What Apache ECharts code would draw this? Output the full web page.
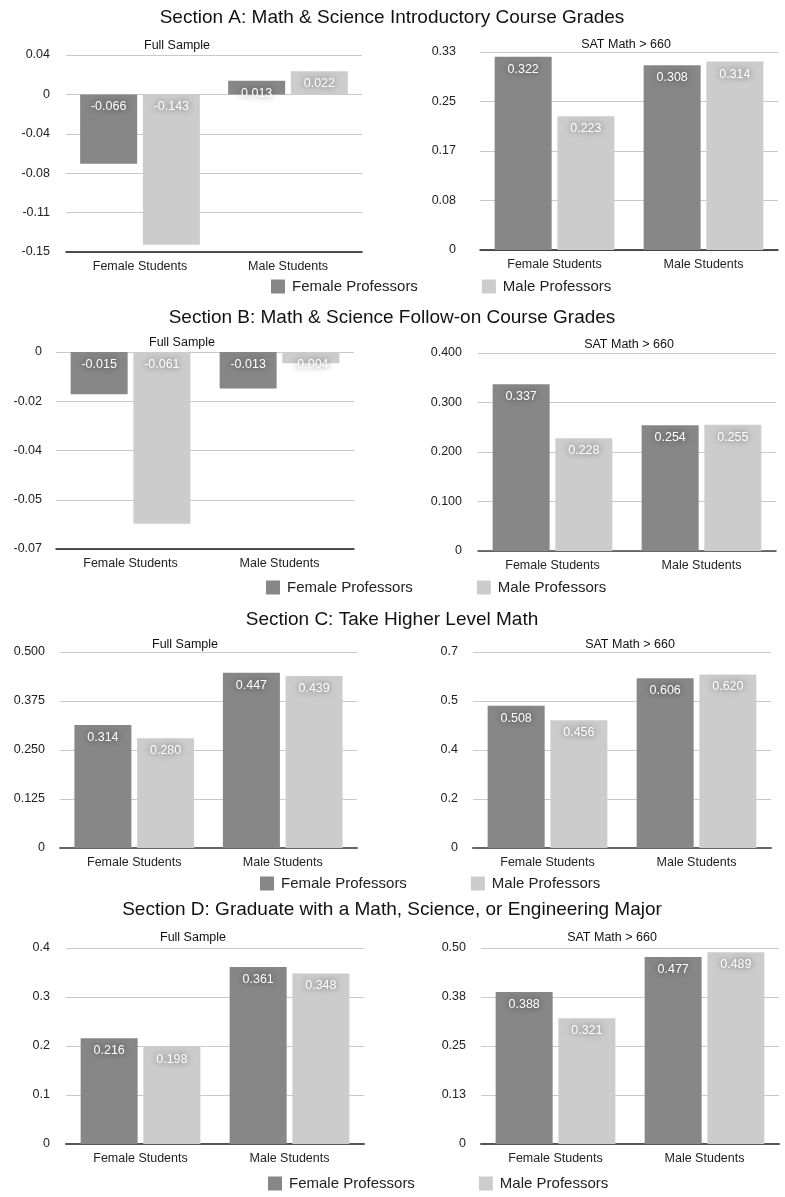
<!DOCTYPE html>
<html>
<head>
<meta charset="utf-8">
<script src="https://cdn.jsdelivr.net/npm/echarts@6/dist/echarts.min.js"></script>
<style>
  html, body { margin: 0; padding: 0; background: #ffffff; }
  #chart { width: 785px; height: 1197px; }
</style>
</head>
<body>
<div id="chart"></div>
<script>
// ---- data ----
const categories = ['Female Students', 'Male Students'];
const seriesNames = ['Female Professors', 'Male Professors'];
const sectionTitles = [
  'Section A: Math & Science Introductory Course Grades',
  'Section B: Math & Science Follow-on Course Grades',
  'Section C: Take Higher Level Math',
  'Section D: Graduate with a Math, Science, or Engineering Major'
];
const panelTitles = ['Full Sample', 'SAT Math > 660'];

// Section A: introductory course grades
const aFullFemaleProf = [-0.066, 0.013];
const aFullMaleProf   = [-0.143, 0.022];
const aSatFemaleProf  = [0.322, 0.308];
const aSatMaleProf    = [0.223, 0.314];
// Section B: follow-on course grades
const bFullFemaleProf = [-0.015, -0.013];
const bFullMaleProf   = [-0.061, -0.004];
const bSatFemaleProf  = [0.337, 0.254];
const bSatMaleProf    = [0.228, 0.255];
// Section C: take higher level math
const cFullFemaleProf = [0.314, 0.447];
const cFullMaleProf   = [0.280, 0.439];
const cSatFemaleProf  = [0.508, 0.606];
const cSatMaleProf    = [0.456, 0.620];
// Section D: graduate with a math, science or engineering major
const dFullFemaleProf = [0.216, 0.361];
const dFullMaleProf   = [0.198, 0.348];
const dSatFemaleProf  = [0.388, 0.477];
const dSatMaleProf    = [0.321, 0.489];

// value-axis ticks: [min, max, interval, decimals shown]
const aFullTicks = [-0.15, 0.0375, 0.0375, 2];
const aSatTicks  = [0, 0.33, 0.0825, 2];
const bFullTicks = [-0.07, 0, 0.0175, 2];
const bSatTicks  = [0, 0.4, 0.1, 3];
const cFullTicks = [0, 0.5, 0.125, 3];
const cSatTicks  = [0, 0.7, 0.175, 1];
const dFullTicks = [0, 0.4, 0.1, 1];
const dSatTicks  = [0, 0.5, 0.125, 2];

// ---- layout ----
const FONT = '"Liberation Sans", Arial, Helvetica, sans-serif';
const DARK = '#868786';
const LIGHT = '#cbcccb';

const panels = [
  { female: aFullFemaleProf, male: aFullMaleProf, ticks: aFullTicks, title: panelTitles[0],
    grid: { left: 66, top: 55, width: 296, height: 197 }, labelMargin: 16, tx: 177, ty: 46, axisColor: '#1a1a1a', axisWidth: 1.5 },
  { female: aSatFemaleProf, male: aSatMaleProf, ticks: aSatTicks, title: panelTitles[1],
    grid: { left: 480, top: 52, width: 298, height: 198 }, labelMargin: 24, tx: 626, ty: 45, axisColor: '#1a1a1a', axisWidth: 1.5 },
  { female: bFullFemaleProf, male: bFullMaleProf, ticks: bFullTicks, title: panelTitles[0],
    grid: { left: 56, top: 352, width: 298, height: 197 }, labelMargin: 14, tx: 182, ty: 343, axisColor: '#1a1a1a', axisWidth: 1.5 },
  { female: bSatFemaleProf, male: bSatMaleProf, ticks: bSatTicks, title: panelTitles[1],
    grid: { left: 478, top: 353, width: 298, height: 198 }, labelMargin: 16, tx: 629, ty: 345, axisColor: '#444', axisWidth: 1.5 },
  { female: cFullFemaleProf, male: cFullMaleProf, ticks: cFullTicks, title: panelTitles[0],
    grid: { left: 60, top: 652, width: 297, height: 196 }, labelMargin: 15, tx: 185, ty: 645, axisColor: '#666', axisWidth: 2 },
  { female: cSatFemaleProf, male: cSatMaleProf, ticks: cSatTicks, title: panelTitles[1],
    grid: { left: 473, top: 652, width: 298, height: 196 }, labelMargin: 15, tx: 630, ty: 645, axisColor: '#666', axisWidth: 2 },
  { female: dFullFemaleProf, male: dFullMaleProf, ticks: dFullTicks, title: panelTitles[0],
    grid: { left: 66, top: 948, width: 298, height: 196 }, labelMargin: 16, tx: 193, ty: 938, axisColor: '#555', axisWidth: 2 },
  { female: dSatFemaleProf, male: dSatMaleProf, ticks: dSatTicks, title: panelTitles[1],
    grid: { left: 481, top: 948, width: 298, height: 196 }, labelMargin: 15, tx: 612, ty: 938, axisColor: '#555', axisWidth: 2 }
];

const sectionTitleY = [18, 318, 620, 910];
const legendPos = [
  { left: 271, top: 279 },
  { left: 266, top: 580 },
  { left: 260, top: 876 },
  { left: 268, top: 1176 }
];

function tickText(v, decimals) {
  if (Math.abs(v) < 1e-12) return '0';
  const f = Math.pow(10, decimals);
  const r = Math.sign(v) * Math.round(Math.abs(v) * f + 1e-7) / f;
  return r.toFixed(decimals);
}

const grids = [], xAxes = [], yAxes = [], series = [], graphics = [], legends = [];

panels.forEach((p, i) => {
  grids.push(Object.assign({ containLabel: false }, p.grid));
  xAxes.push({
    type: 'category', gridIndex: i, data: categories,
    axisLine: { onZero: false, lineStyle: { color: p.axisColor, width: p.axisWidth } },
    axisTick: { show: false },
    axisLabel: { color: '#222', fontSize: 12.5, fontFamily: FONT, margin: 8 }
  });
  const [mn, mx, iv, dec] = p.ticks;
  yAxes.push({
    type: 'value', gridIndex: i, min: mn, max: mx, interval: iv,
    axisLine: { show: false }, axisTick: { show: false },
    axisLabel: { color: '#222', fontSize: 12.5, fontFamily: FONT, margin: p.labelMargin,
                 formatter: v => tickText(v, dec) },
    splitLine: { show: true, lineStyle: { color: '#c9c9c9', width: 1 } }
  });
  [[seriesNames[0], p.female, DARK], [seriesNames[1], p.male, LIGHT]].forEach(([name, data, color]) => {
    series.push({
      type: 'bar', name, xAxisIndex: i, yAxisIndex: i, data,
      barWidth: 57, barGap: '10%',
      itemStyle: { color },
      label: {
        show: true, position: 'insideTop', distance: 6,
        color: '#ffffff', fontSize: 12.5, fontFamily: FONT,
        textShadowColor: 'rgba(0,0,0,0.6)', textShadowBlur: 6,
        formatter: d => d.value.toFixed(3)
      }
    });
  });
  graphics.push({
    type: 'text', x: p.tx, y: p.ty,
    style: { text: p.title, fill: '#111', font: '12.5px ' + FONT, textAlign: 'center', textVerticalAlign: 'middle' }
  });
});

sectionTitles.forEach((t, k) => {
  graphics.push({
    type: 'text', x: 392, y: sectionTitleY[k],
    style: { text: t, fill: '#111', font: '19px ' + FONT, textAlign: 'center', textVerticalAlign: 'middle' }
  });
  legends.push({
    data: seriesNames, left: legendPos[k].left, top: legendPos[k].top, orient: 'horizontal',
    icon: 'rect', itemWidth: 14, itemHeight: 14, itemGap: 64, padding: 0,
    selectedMode: false,
    textStyle: { color: '#222', fontSize: 15, fontFamily: FONT, padding: [0, 0, 0, 2] }
  });
});

const chart = echarts.init(document.getElementById('chart'), null, { renderer: 'canvas' });
chart.setOption({
  animation: false,
  backgroundColor: '#ffffff',
  textStyle: { fontFamily: FONT },
  grid: grids,
  xAxis: xAxes,
  yAxis: yAxes,
  legend: legends,
  series,
  graphic: graphics
});
</script>
</body>
</html>
